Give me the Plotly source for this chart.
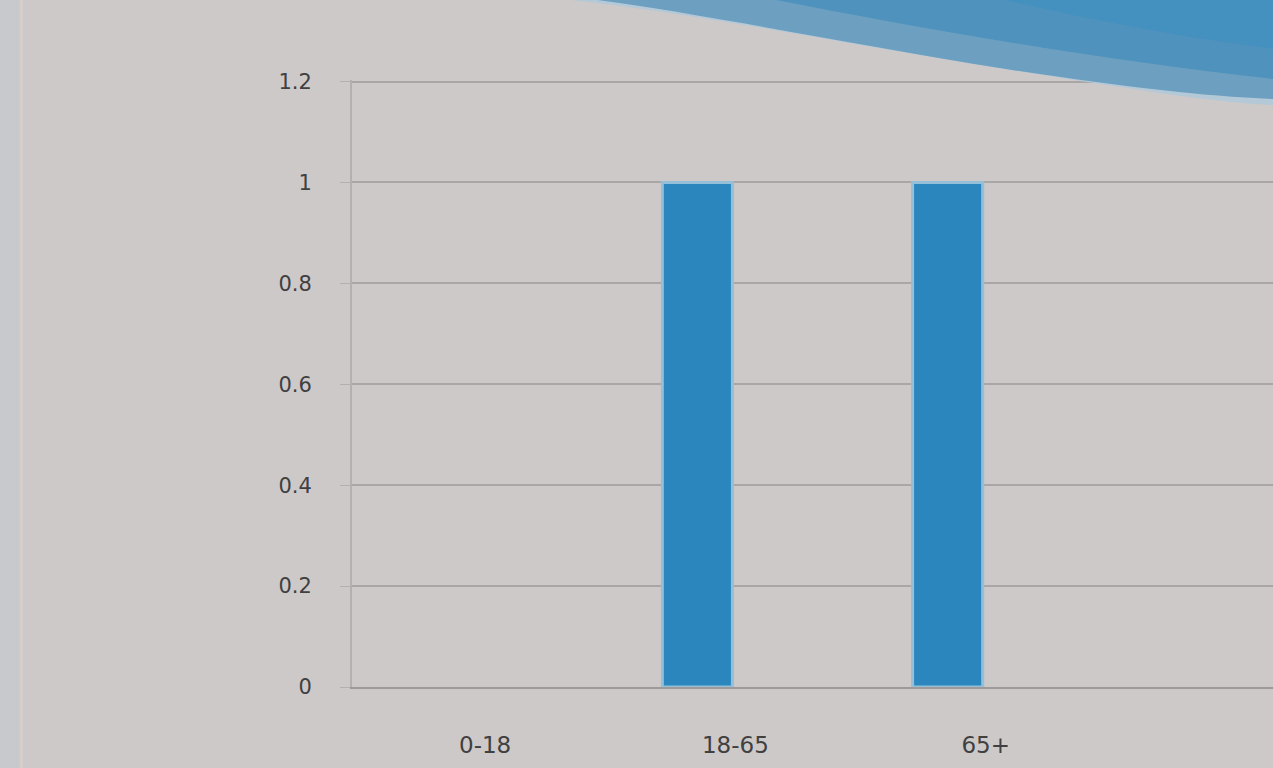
import plotly.graph_objects as go

# Age groups and their values
categories = ["0-18", "18-65", "65+"]
values = [0, 1, 1]
y_ticks = [0, 0.2, 0.4, 0.6, 0.8, 1, 1.2]
y_tick_labels = ["0", "0.2", "0.4", "0.6", "0.8", "1", "1.2"]

BG = "#cdc9c9"
BAR = "#2b86bd"
GRID = "#aaa6a6"
TEXT = "#404040"

fig = go.Figure(
    go.Bar(
        x=categories,
        y=values,
        width=0.28,
        marker=dict(
            color=BAR,
            line=dict(color="#93bfd8", width=[3 if v else 0 for v in values]),
        ),
    )
)

# Decorative blue wave across the top right (light rim, then the darker body)
rim = (
    "M 0.215 1.20 L 0.215 1.135 "
    "C 0.33 1.12, 0.50 1.07, 0.70 1.02 "
    "C 0.83 0.99, 0.93 0.962, 1.01 0.958 "
    "L 1.01 1.20 Z"
)
body = (
    "M 0.25 1.20 L 0.25 1.135 "
    "C 0.36 1.115, 0.52 1.065, 0.71 1.018 "
    "C 0.84 0.988, 0.93 0.972, 1.01 0.968 "
    "L 1.01 1.20 Z"
)
fig.add_shape(type="path", path=rim, xref="paper", yref="paper",
              fillcolor="#b3c9d8", line=dict(width=0), layer="above")
fig.add_shape(type="path", path=body, xref="paper", yref="paper",
              fillcolor="#6c9fc0", line=dict(width=0), layer="above")
fig.add_shape(type="path",
              path="M 0.45 1.20 L 0.45 1.135 C 0.60 1.09, 0.80 1.035, 1.01 1.0 L 1.01 1.20 Z",
              xref="paper", yref="paper",
              fillcolor="#4f92bd", line=dict(width=0), layer="above")
fig.add_shape(type="path",
              path="M 0.70 1.20 L 0.70 1.135 C 0.80 1.10, 0.90 1.07, 1.01 1.05 L 1.01 1.20 Z",
              xref="paper", yref="paper",
              fillcolor="#4490bf", line=dict(width=0), layer="above")

# Left edge strip of the panel
fig.add_shape(type="rect", xref="paper", yref="paper",
              x0=-0.40, x1=-0.362, y0=-0.2, y1=1.2,
              fillcolor="#c7c9cd", line=dict(width=0), layer="below")
fig.add_shape(type="line", xref="paper", yref="paper",
              x0=-0.359, x1=-0.359, y0=-0.2, y1=1.2,
              line=dict(color="#d6cfcb", width=3), layer="below")

fig.update_layout(
    width=1273,
    height=768,
    margin=dict(l=352, r=0, t=80, b=81),
    paper_bgcolor=BG,
    plot_bgcolor=BG,
    showlegend=False,
    font=dict(family="DejaVu Sans, Arial, sans-serif", color=TEXT),
    xaxis=dict(
        type="category",
        range=[-0.38, 3.3],
        showgrid=False,
        showline=True,
        linecolor="#9e9a9a",
        linewidth=2,
        ticks="",
        tickfont=dict(size=23, color=TEXT),
        ticklabelshift=38,
        ticklabelstandoff=36,
    ),
    yaxis=dict(
        range=[0, 1.203],
        tickvals=y_ticks,
        ticktext=y_tick_labels,
        showgrid=True,
        gridcolor=GRID,
        gridwidth=2,
        showline=True,
        linecolor="#b4b0b0",
        linewidth=2,
        ticks="outside",
        ticklen=10,
        tickcolor="#b4b0b0",
        tickfont=dict(size=21, color=TEXT),
        ticklabelstandoff=24,
        zeroline=False,
    ),
)

fig.write_html("out.html")
